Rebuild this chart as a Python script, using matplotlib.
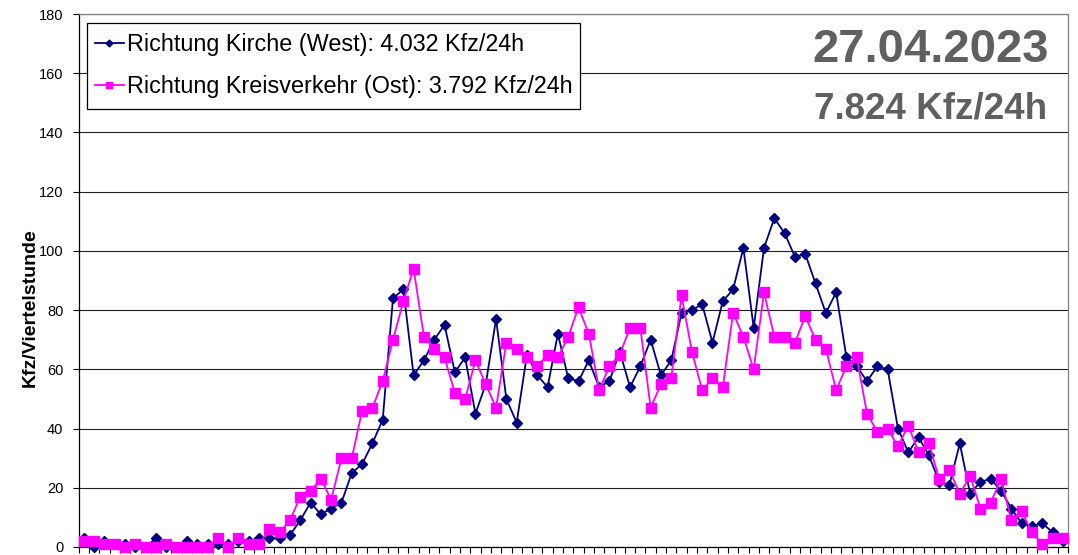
import matplotlib
matplotlib.use("Agg")
import matplotlib.pyplot as plt
import matplotlib.patches as patches
import numpy as np

plt.rcParams['font.family'] = ['Liberation Sans', 'DejaVu Sans']

# Viertelstundenwerte 00:00 - 24:00 (96 Intervalle)
west = [3, 0, 2, 1, 1, 0, 0, 3, 0, 0, 2, 1, 1, 1, 1, 2, 2, 3, 3, 3, 4, 9,
        15, 11, 13, 15, 25, 28, 35, 43,
        84, 87, 58, 63, 70, 75, 59, 64, 45, 55, 77, 50, 42, 65, 58, 54, 72, 57, 56, 63, 54,
        56, 66, 54, 61, 70, 58, 63, 79, 80, 82, 69, 83, 87, 101, 74, 101, 111, 106, 98, 99,
        89, 79, 86, 64, 61,
        56, 61, 60, 40, 32, 37, 31, 22, 21, 35, 18, 22, 23, 19, 13, 8, 7, 8, 5, 2]
ost = [2, 2, 1, 1, 0, 1, 0, 0, 1, 0, 0, 0, 0, 3, 0, 3, 1, 1, 6, 5, 9, 17,
       19, 23, 16, 30, 30, 46, 47, 56,
       70, 83, 94, 71, 67, 64, 52, 50, 63, 55, 47, 69, 67, 64, 61, 65, 64, 71, 81, 72, 53,
       61, 65, 74, 74, 47, 55, 57, 85, 66, 53, 57, 54, 79, 71, 60, 86, 71, 71, 69, 78,
       70, 67, 53, 61, 64,
       45, 39, 40, 34, 41, 32, 35, 23, 26, 18, 24, 13, 15, 23, 9, 12, 5, 1, 3, 3]

label_west = "Richtung Kirche (West): 4.032 Kfz/24h"
label_ost = "Richtung Kreisverkehr (Ost): 3.792 Kfz/24h"
datum = "27.04.2023"
summe = "7.824 Kfz/24h"
yticks = [0, 20, 40, 60, 80, 100, 120, 140, 160, 180]

W, H = 1078, 555
fig = plt.figure(figsize=(W / 100, H / 100), dpi=100)
ax = fig.add_axes([78.7 / W, 8 / H, 989.3 / W, 533 / H])

x = np.arange(len(west))
ax.plot(x, west, color='#000080', lw=1.3, marker='D', markersize=4.6,
        markeredgecolor='#000080', markerfacecolor='#000080', clip_on=False,
        label=label_west, zorder=3)
ax.plot(x, ost, color='#FF00FF', lw=1.3, marker='s', markersize=6.5,
        markeredgecolor='#FF00FF', markerfacecolor='#FF00FF', clip_on=False,
        label=label_ost, zorder=4)

ax.set_xlim(-0.5, len(west) - 0.5)
ax.set_ylim(0, 180)
ax.set_yticks(yticks)
ax.set_xticks(np.arange(-0.5, len(west), 1))
ax.set_xticklabels([])
ax.tick_params(axis='y', direction='out', length=4, width=0.8, pad=7, labelsize=10.5)
ax.tick_params(axis='x', direction='out', length=4, width=0.8)
ax.yaxis.grid(True, color='#222222', lw=0.8)
ax.set_axisbelow(True)

for side in ['top', 'right']:
    ax.spines[side].set_color('#808080')
    ax.spines[side].set_linewidth(0.9)
for side in ['left', 'bottom']:
    ax.spines[side].set_color('black')
    ax.spines[side].set_linewidth(0.9)

# legend without its own frame; frame drawn a bit taller afterwards
extra = 3  # px extra vertical padding
leg = ax.legend(loc='upper left', bbox_to_anchor=(8.6 / 989.3, (547 - 23 - extra) / 533),
                borderaxespad=0, fontsize=16.8, frameon=False,
                borderpad=0.31, labelspacing=0.82,
                handlelength=1.25, handletextpad=0.13, markerscale=0.75)
leg.set_zorder(6)
fig.canvas.draw()
bb = leg.get_window_extent()
frame = patches.Rectangle((bb.x0 / W, (bb.y0 - extra) / H), bb.width / W,
                          (bb.height + 2 * extra) / H, transform=fig.transFigure,
                          facecolor='white', edgecolor='black', lw=0.9, zorder=5,
                          clip_on=False)
ax.add_patch(frame)

fig.text(30 / W, 1 - 307.5 / H, "Kfz/Viertelstunde", rotation=90,
         ha='center', va='center', fontsize=14, fontweight='bold')
fig.text(1049 / W, 1 - 61.7 / H, datum, ha='right', va='baseline',
         fontsize=34, fontweight='bold', color='#606060')
fig.text(1047 / W, 1 - 118.3 / H, summe, ha='right', va='baseline',
         fontsize=26.5, fontweight='bold', color='#606060')

fig.savefig("out.png", dpi=100)
